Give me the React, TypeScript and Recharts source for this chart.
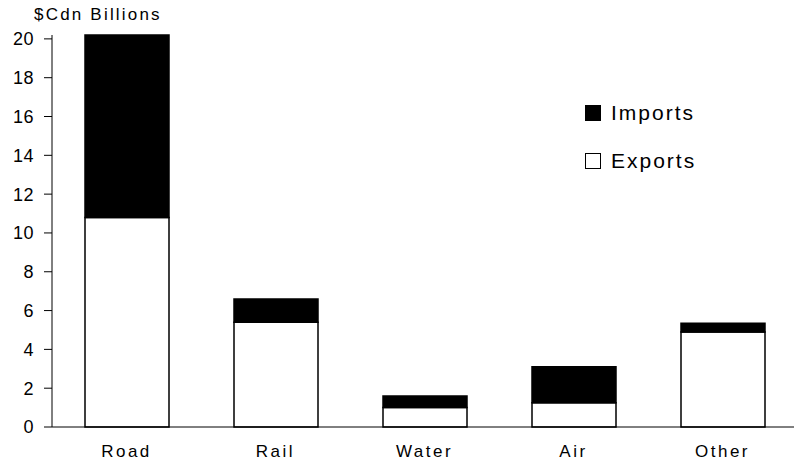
import { BarChart, Bar, XAxis, YAxis } from "recharts";

const modes = ["Road", "Rail", "Water", "Air", "Other"];
const exportsVals = [10.8, 5.4, 1.0, 1.25, 4.9];
const importsVals = [9.4, 1.2, 0.6, 1.85, 0.45];
const yTicks = [0, 2, 4, 6, 8, 10, 12, 14, 16, 18, 20];

const font = "Arial, 'Liberation Sans', sans-serif";

function LegendBox() {
  const row = (fill: string, label: string, top: number) => (
    <div style={{ position: "absolute", left: 585, top, display: "flex", alignItems: "center" }}>
      <div style={{ width: 14, height: 14, background: fill, border: "1px solid #000" }} />
      <span style={{ marginLeft: 10, fontSize: 21, letterSpacing: 2 }}>{label}</span>
    </div>
  );
  return (
    <>
      {row("#000", "Imports", 101)}
      {row("#fff", "Exports", 149)}
    </>
  );
}

export default function App() {
  const data = modes.map((m, i) => ({ mode: m, exports: exportsVals[i], imports: importsVals[i] }));
  return (
    <div style={{ position: "absolute", left: 0, top: 0, width: 794, height: 466, overflow: "hidden", background: "#fff", fontFamily: font, color: "#000" }}>
      <div style={{ position: "absolute", left: 34, top: 5, fontSize: 17, letterSpacing: 2.2 }}>$Cdn Billions</div>
      <BarChart width={800} height={466} data={data} margin={{ top: 35, right: 3, bottom: 9, left: 0 }} barSize={84}>
        <XAxis
          dataKey="mode"
          axisLine={{ stroke: "#000", strokeWidth: 1 }}
          tickLine={false}
          tickSize={0}
          tickMargin={18}
          height={30}
          tick={{ fill: "#000", fontSize: 17, letterSpacing: 2.5, fontFamily: font }}
        />
        <YAxis
          width={52}
          domain={[0, 20.2]}
          ticks={yTicks}
          interval={0}
          axisLine={{ stroke: "#000", strokeWidth: 1 }}
          tickLine={{ stroke: "#000" }}
          tickSize={8}
          tickMargin={10}
          tick={{ fill: "#000", fontSize: 18, letterSpacing: 0.5, fontFamily: font }}
        />
        <Bar dataKey="exports" stackId="a" fill="#fff" stroke="#000" strokeWidth={1.5} isAnimationActive={false} />
        <Bar dataKey="imports" stackId="a" fill="#000" stroke="#000" strokeWidth={1.5} isAnimationActive={false} />
      </BarChart>
      <LegendBox />
    </div>
  );
}
